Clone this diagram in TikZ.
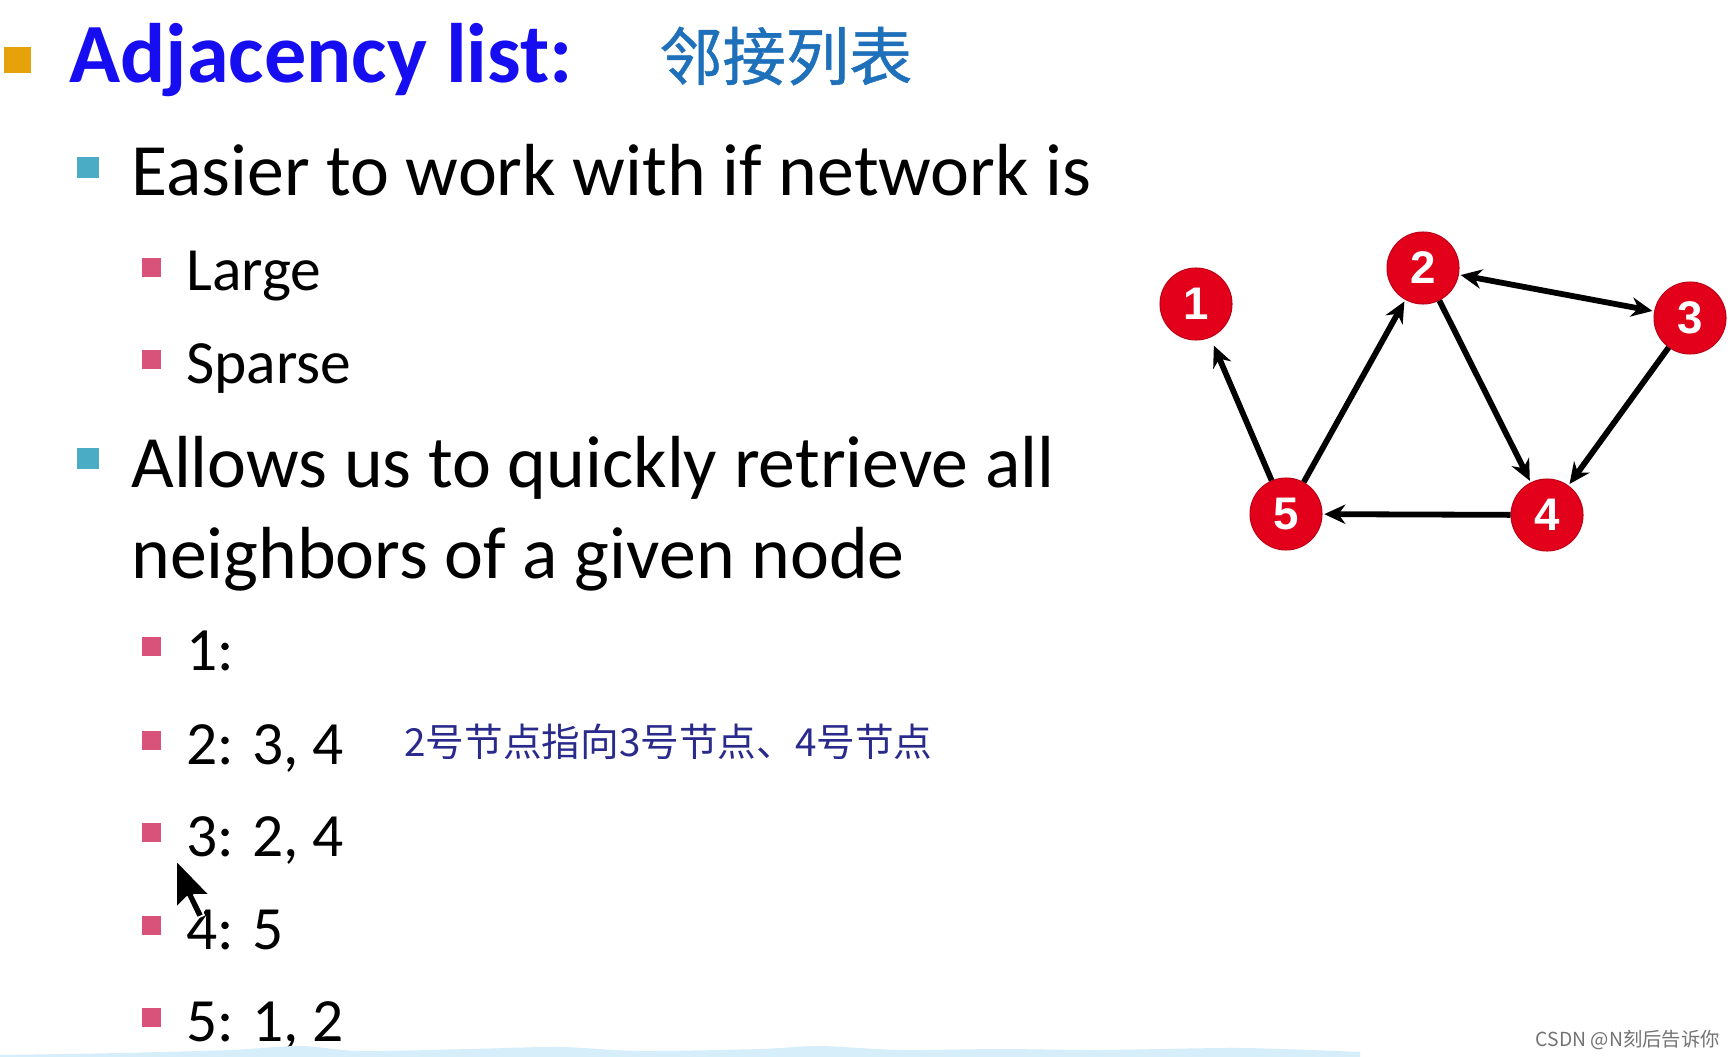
\documentclass[tikz,border=0pt]{standalone}
\usepackage{fontspec}
\setmainfont{Carlito}
\newfontfamily\cjk{Noto Sans CJK SC}
\newfontfamily\cjkheavy[FakeBold=0.8]{Noto Sans CJK SC}
\newfontfamily\arialfont{Liberation Sans}
\usetikzlibrary{arrows.meta}

\definecolor{titleblue}{RGB}{22,14,240}
\definecolor{cjkblue}{RGB}{30,112,186}
\definecolor{bulorange}{RGB}{230,162,10}
\definecolor{bulteal}{RGB}{75,172,198}
\definecolor{bulpink}{RGB}{217,82,122}
\definecolor{nodered}{RGB}{226,0,26}
\definecolor{inkblue}{RGB}{42,42,140}
\definecolor{wavecol}{RGB}{214,238,250}

\begin{document}
\begin{tikzpicture}[x=0.02cm,y=-0.02cm,
  txt/.style={anchor=base west,inner sep=0pt},
  lvlzero/.style={txt,text=titleblue,font=\bfseries\fontsize{48}{56}\selectfont},
  lvlone/.style={txt,font=\fontsize{42}{50}\selectfont},
  lvltwo/.style={txt,font=\fontsize{35}{42}\selectfont},
  vertex/.style={circle,fill=nodered,draw=nodered!85!black,line width=0.6pt,
    minimum size=1.44cm,inner sep=0pt,text=white,
    font=\arialfont\bfseries\fontsize{26}{26}\selectfont},
  tip/.tip={Stealth[length=12pt,width=11pt]},
  edge/.style={line width=3.3pt,-tip,shorten >=1pt}]
  \useasboundingbox (0,0) rectangle (1736,1057);
  \fill[white] (0,0) rectangle (1736,1057);

  % title
  \fill[bulorange] (4,47) rectangle (31,73);
  \node[lvlzero] (title) at (69,83) {Adjacency list:};
  \node[txt,text=cjkblue,font=\cjkheavy\fontsize{36}{40}\selectfont] (titlecn) at (659,80) {邻接列表};

  % first block
  \fill[bulteal] (77,157) rectangle (99,178);
  \node[lvlone] (easier) at (131,196) {Easier to work with if network is};
  \fill[bulpink] (142,258) rectangle (161,277);
  \node[lvltwo] (large) at (186,291) {Large};
  \fill[bulpink] (142,350) rectangle (161,369);
  \node[lvltwo] (sparse) at (186,383) {Sparse};

  % second block
  \fill[bulteal] (77,448) rectangle (99,469);
  \node[lvlone] (allows) at (131,487) {Allows us to quickly retrieve all};
  \node[lvlone] (neighbors) at (131,578) {neighbors of a given node};
  \fill[bulpink] (142,637) rectangle (161,656);
  \node[lvltwo] (adjone) at (186,670) {1:};
  \fill[bulpink] (142,731) rectangle (161,750);
  \node[lvltwo] (adjtwo) at (186,764) {2: 3, 4};
  \fill[bulpink] (142,823) rectangle (161,842);
  \node[lvltwo] (adjthree) at (186,856) {3: 2, 4};
  \fill[bulpink] (142,916) rectangle (161,935);
  \node[lvltwo] (adjfour) at (186,949) {4: 5};
  \fill[bulpink] (142,1008) rectangle (161,1027);
  \node[lvltwo] (adjfive) at (186,1041) {5: 1, 2};

  % handwritten note
  \node[anchor=west,inner sep=0pt,text=inkblue,font=\cjk\fontsize{22}{24}\selectfont] (note) at (404,742) {2号节点指向3号节点、4号节点};

  % mouse pointer
  \draw[white,fill=black,line width=1pt,line join=round] (176,860) -- ++(0,48) -- ++(11,-11)
    -- ++(10,21) -- ++(7,-3) -- ++(-10,-20) -- ++(16,0) -- cycle;

  % graph
  \node[vertex] (n1) at (1196,304) {1};
  \node[vertex] (n2) at (1423,268) {2};
  \node[vertex] (n3) at (1690,318) {3};
  \node[vertex] (n4) at (1547,515) {4};
  \node[vertex] (n5) at (1286,514) {5};

  \draw[edge,shorten >=5pt] (n5) -- (n1);
  \draw[edge] (n5) -- (n2);
  \draw[edge] (n2) -- (n4);
  \draw[edge] (n3) -- (n4);
  \draw[edge] (n4) -- (n5);
  \draw[edge,tip-tip,shorten <=1pt] (n2) -- (n3);

  % bottom strip and watermark
  \fill[wavecol] (0,1057) -- plot[smooth] coordinates {(0,1055) (120,1053) (230,1050) (300,1046)
    (360,1051) (470,1049) (560,1047) (640,1051) (760,1049) (820,1046) (900,1050) (1000,1049)
    (1100,1050) (1240,1048) (1360,1052)} -- (1360,1057) -- cycle;
  \node[anchor=base east,inner sep=0pt,text=black!55,font=\cjk\fontsize{11}{12}\selectfont] (mark) at (1720,1046) {CSDN @N刻后告诉你};
\end{tikzpicture}
\end{document}
